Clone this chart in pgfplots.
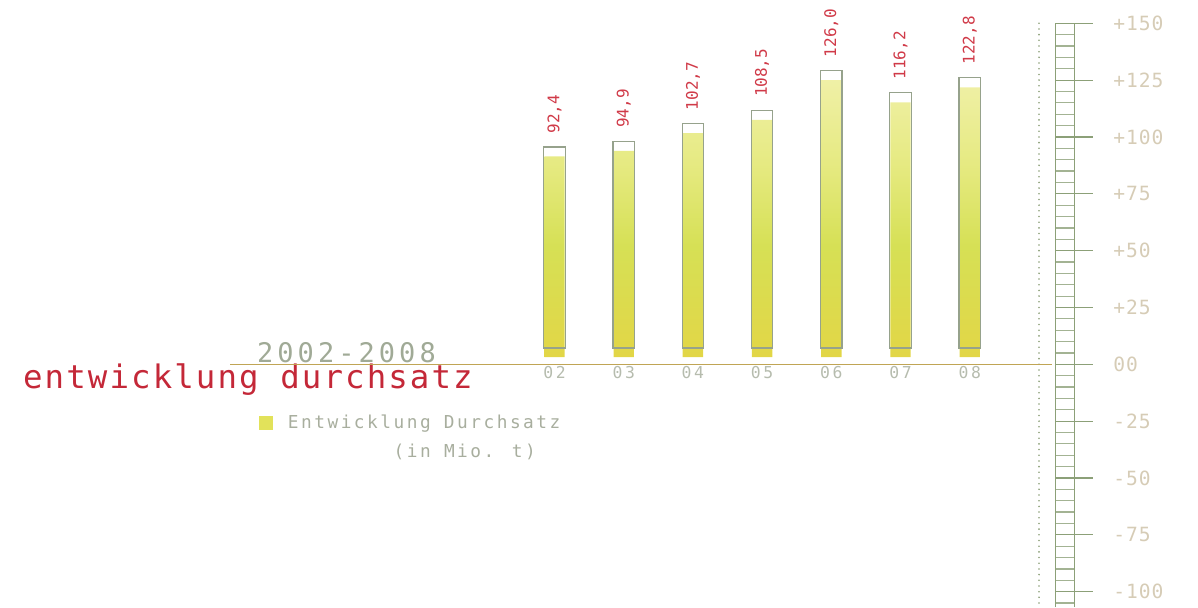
\documentclass[border=0pt]{standalone}
\usepackage{pgfplots}
\pgfplotsset{compat=1.18}
\usepackage{pgfplotstable}
\usepackage{fontspec}
\setmainfont{DejaVu Sans Mono}
\newfontfamily\titlef[LetterSpace=6.5]{DejaVu Sans Mono}
\newfontfamily\yearf[LetterSpace=15]{DejaVu Sans Mono}
\newfontfamily\legf[LetterSpace=14]{DejaVu Sans Mono}
\newfontfamily\tickf[LetterSpace=16]{DejaVu Sans Mono}
\newfontfamily\valf{DejaVu Sans Mono}
\newfontfamily\axf[LetterSpace=5]{DejaVu Sans Mono}

\definecolor{titlered}{RGB}{196,40,56}
\definecolor{valred}{RGB}{208,58,72}
\definecolor{yeargrey}{RGB}{160,170,150}
\definecolor{legtext}{RGB}{168,174,158}
\definecolor{ticktext}{RGB}{182,188,174}
\definecolor{ylab}{RGB}{214,204,182}
\definecolor{gold}{RGB}{192,165,85}
\definecolor{ladder}{RGB}{140,160,120}
\definecolor{outline}{RGB}{150,162,140}
\definecolor{legfill}{RGB}{226,226,90}
\definecolor{tb0}{RGB}{236,225,100}
\definecolor{tb1}{RGB}{238,228,120}
\definecolor{tb2}{RGB}{232,214,75}
\definecolor{tb3}{RGB}{226,214,70}
\definecolor{tb4}{RGB}{214,224,85}
\definecolor{tb5}{RGB}{230,234,130}
\definecolor{tb6}{RGB}{246,244,190}
\definecolor{tb7}{RGB}{243,236,160}
\definecolor{tb8}{RGB}{238,226,115}
\pgfdeclareverticalshading{tube}{100bp}{color(0bp)=(tb0); color(4bp)=(tb1); color(8bp)=(tb2); color(25bp)=(tb3); color(45bp)=(tb4); color(60bp)=(tb5); color(85bp)=(tb6); color(95bp)=(tb7); color(100bp)=(tb8)}

\pgfplotstableread{
x v lab
0 92.4 92,4
1 94.9 94,9
2 102.7 102,7
3 108.5 108,5
4 126.0 126,0
5 116.2 116,2
6 122.8 122,8
}\durchsatz

\begin{document}
\begin{tikzpicture}
% main axis: fill of the tubes, x labels, titles, legend
\begin{axis}[
  at={(0,0)}, anchor=south west,
  width=599pt, height=303.5pt, scale only axis,
  xmin=-8.013, xmax=9.299, ymin=-106.75, ymax=160.23,
  axis x line*=middle, axis y line=none,
  x axis line style={draw=none},
  xtick={0,1,2,3,4,5,6},
  xticklabels={02,03,04,05,06,07,08},
  ytick=\empty,
  major tick length=0pt,
  xticklabel style={font=\tickf\fontsize{8.2}{9}\selectfont, text=ticktext, inner sep=0pt, anchor=north, yshift=-0.85pt},
  ybar stacked, bar width=10.2pt,
  clip=false,
  legend style={draw=none, fill=none, inner sep=0pt, outer sep=0pt,
    at={(axis cs:-4.265,-25.8)}, anchor=west,
    font=\legf\fontsize{8.9}{10}\selectfont, text=legtext,
    nodes={inner sep=0pt}},
  legend cell align=left,
]
\addplot[draw=none, fill=none, forget plot] table[x=x, y expr=3.2] {\durchsatz};
\addplot[draw=none, shade, shading=tube, forget plot] table[x=x, y expr=\thisrow{v}-1-3.2] {\durchsatz};
\addlegendimage{legend image code/.code={\fill[legfill] (0pt,-3.25pt) rectangle (6.5pt,3.25pt);}}
\addlegendentry{\hspace*{7.4pt}Entwicklung Durchsatz}
% zero line
\draw[gold, line width=0.75pt] (axis cs:-4.689,0) -- (axis cs:7.189,0);
% dotted guide
\draw[ladder, line width=0.9pt, dash pattern=on 0pt off 2.842pt, line cap=round] (axis cs:7.001,150) -- (axis cs:7.001,-106.75);
% texts
\node[anchor=base west, inner sep=0pt, text=yeargrey, font=\yearf\fontsize{13.5}{15}\selectfont] at (axis cs:-4.303,0.6) {2002-2008};
\node[anchor=base west, inner sep=0pt, text=titlered, font=\titlef\fontsize{16.2}{19}\selectfont] at (axis cs:-7.685,-10.86) {entwicklung durchsatz};
\node[anchor=base west, inner sep=0pt, text=legtext, font=\legf\fontsize{8.9}{10}\selectfont] at (axis cs:-2.33,-41.2) {(in Mio. t)};
\end{axis}
% overlay axis: tube outlines
\begin{axis}[
  at={(0,0)}, anchor=south west,
  width=599pt, height=303.5pt, scale only axis,
  xmin=-8.013, xmax=9.299, ymin=-106.75, ymax=160.23,
  hide axis, clip=false,
  ybar stacked, bar width=10.65pt,
]
\addplot[draw=none, fill=none] table[x=x, y expr=7.2] {\durchsatz};
\addplot[draw=outline, line width=0.6pt, fill=none]
  table[x=x, y expr=\thisrow{v}+3.2-7.2] {\durchsatz};
\end{axis}
% overlay axis: value labels above the tubes
\begin{axis}[
  at={(0,0)}, anchor=south west,
  width=599pt, height=303.5pt, scale only axis,
  xmin=-8.013, xmax=9.299, ymin=-106.75, ymax=160.23,
  hide axis, clip=false,
]
\addplot[draw=none, mark=none, only marks,
  point meta=explicit symbolic,
  nodes near coords,
  nodes near coords style={yshift=6.5pt, rotate=90, anchor=west, inner sep=0pt, text=valred, font=\valf\fontsize{8}{9}\selectfont}]
  table[x=x, y expr=\thisrow{v}+3.2, meta=lab] {\durchsatz};
\end{axis}
% ladder scale on the right
\begin{axis}[
  at={(527.85pt,0)}, anchor=south west,
  width=9.3pt, height=291.85pt, scale only axis,
  xmin=0, xmax=1, ymin=-106.75, ymax=150,
  hide x axis,
  axis line style={ladder, line width=0.6pt},
  ytick={-100,-75,-50,-25,0,25,50,75,100,125,150},
  yticklabels={-100,-75,-50,-25,00,+25,+50,+75,+100,+125,+150},
  minor ytick={-105,-95,-90,-85,-80,-70,-65,-60,-55,-45,-40,-35,-30,-20,-15,-10,-5,5,10,15,20,30,35,40,45,55,60,65,70,80,85,90,95,105,110,115,120,130,135,140,145},
  grid=both,
  major grid style={ladder, line width=0.6pt},
  minor grid style={ladder!80!white, line width=0.6pt},
  ytick pos=right, yticklabel pos=right,
  tick align=outside,
  major tick length=9.2pt, minor tick length=0pt,
  major tick style={ladder, line width=0.6pt},
  yticklabel style={anchor=west, inner sep=0pt, xshift=10.15pt, text=ylab, font=\axf\fontsize{9.8}{11}\selectfont},
  clip=false,
]
\end{axis}
\pgfresetboundingbox
\useasboundingbox (0,0) rectangle (599pt,303.5pt);
\end{tikzpicture}
\end{document}
